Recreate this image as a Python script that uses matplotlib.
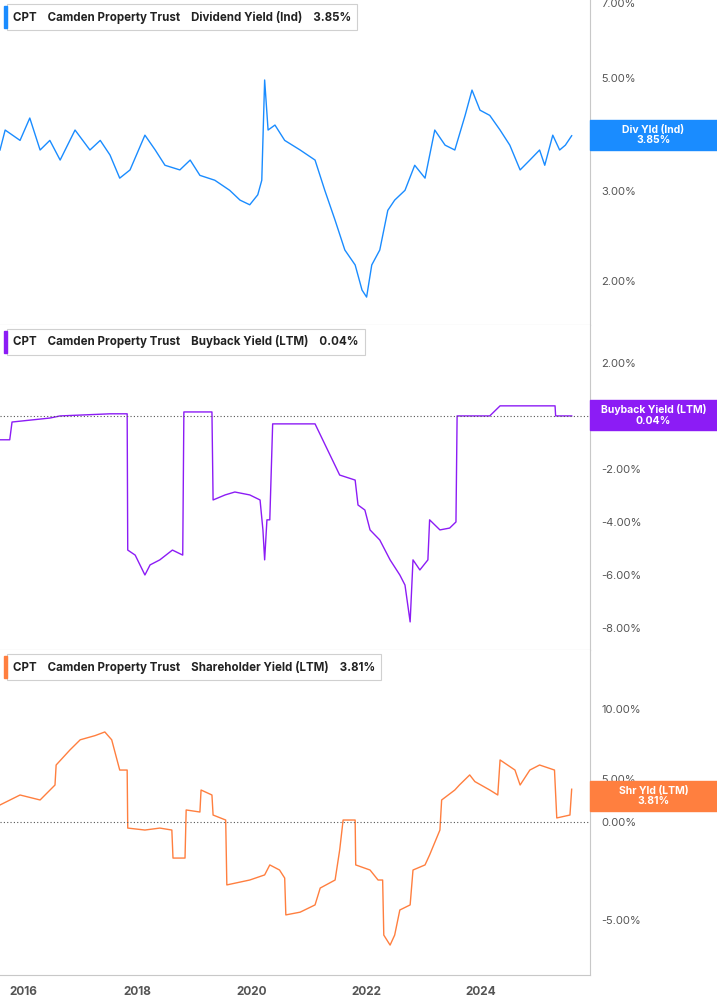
import numpy as np
import matplotlib
matplotlib.use("Agg")
import matplotlib.pyplot as plt

# ---- data (decimal year, percent) ----
div_t = [2015.60, 2015.69, 2015.95, 2016.12, 2016.30, 2016.47, 2016.65, 2016.91, 2017.17, 2017.35,
         2017.52, 2017.69, 2017.87, 2018.13, 2018.31, 2018.48, 2018.74, 2018.92, 2019.09, 2019.35,
         2019.61, 2019.79, 2019.96, 2020.10, 2020.17, 2020.22, 2020.28, 2020.40, 2020.57, 2020.84,
         2021.10, 2021.27, 2021.45, 2021.62, 2021.80, 2021.92, 2022.00, 2022.09, 2022.23, 2022.37,
         2022.49, 2022.67, 2022.84, 2023.02, 2023.19, 2023.37, 2023.54, 2023.72, 2023.84, 2023.98,
         2024.15, 2024.33, 2024.50, 2024.68, 2024.85, 2025.02, 2025.11, 2025.25, 2025.37, 2025.47, 2025.58]
div_v = [3.61, 3.95, 3.77, 4.17, 3.61, 3.77, 3.45, 3.95, 3.61, 3.77, 3.53, 3.18, 3.30, 3.86, 3.61,
         3.37, 3.30, 3.45, 3.22, 3.15, 3.01, 2.88, 2.82, 2.95, 3.15, 4.95, 3.95, 4.04, 3.77, 3.61,
         3.45, 3.01, 2.63, 2.30, 2.15, 1.92, 1.86, 2.15, 2.30, 2.75, 2.88, 3.01, 3.37, 3.18, 3.95,
         3.69, 3.61, 4.22, 4.73, 4.32, 4.22, 3.95, 3.69, 3.30, 3.45, 3.61, 3.37, 3.86, 3.61, 3.69, 3.85]

bb_t = [2015.60, 2015.77, 2015.81, 2016.47, 2016.65, 2017.52, 2017.82, 2017.83, 2017.96, 2018.13,
        2018.22, 2018.39, 2018.61, 2018.79, 2018.81, 2019.30, 2019.32, 2019.53, 2019.70, 2019.96,
        2020.14, 2020.19, 2020.22, 2020.26, 2020.31, 2020.36, 2021.10, 2021.53, 2021.80, 2021.85,
        2021.97, 2022.06, 2022.23, 2022.41, 2022.58, 2022.67, 2022.76, 2022.81, 2022.93, 2023.07,
        2023.10, 2023.28, 2023.45, 2023.56, 2023.58, 2024.15, 2024.33, 2025.29, 2025.30, 2025.58]
bb_v = [-0.90, -0.90, -0.23, -0.08, 0.00, 0.08, 0.08, -5.06, -5.25, -6.00, -5.62, -5.43, -5.06, -5.25,
        0.15, 0.15, -3.17, -2.98, -2.87, -2.98, -3.17, -4.30, -5.43, -3.92, -3.92, -0.30, -0.30, -2.23,
        -2.42, -3.36, -3.55, -4.30, -4.68, -5.43, -6.00, -6.38, -7.77, -5.43, -5.81, -5.43, -3.92, -4.30,
        -4.23, -4.00, 0.00, 0.00, 0.38, 0.38, 0.00, 0.00]

shr_t = [2015.60, 2015.95, 2016.30, 2016.56, 2016.58, 2016.82, 2017.00, 2017.26, 2017.43, 2017.55,
         2017.69, 2017.82, 2017.83, 2018.13, 2018.39, 2018.60, 2018.62, 2018.83, 2018.85, 2019.09,
         2019.11, 2019.30, 2019.32, 2019.54, 2019.56, 2019.96, 2020.22, 2020.31, 2020.48, 2020.57,
         2020.59, 2020.84, 2021.10, 2021.19, 2021.45, 2021.53, 2021.59, 2021.80, 2021.81, 2022.06,
         2022.20, 2022.28, 2022.30, 2022.41, 2022.49, 2022.58, 2022.76, 2022.81, 2023.02, 2023.10,
         2023.28, 2023.31, 2023.54, 2023.62, 2023.80, 2023.89, 2024.15, 2024.29, 2024.33, 2024.59,
         2024.68, 2024.85, 2025.02, 2025.28, 2025.32, 2025.55, 2025.58]
shr_v = [1.98, 3.14, 2.56, 4.30, 6.00, 7.07, 7.80, 8.10, 8.36, 7.80, 5.64, 5.64, -0.31, -0.41, -0.31,
         -0.41, -1.84, -1.84, 1.40, 1.16, 3.72, 3.14, 0.81, 0.23, -3.21, -2.96, -2.70, -2.19, -2.45,
         -2.86, -4.74, -4.60, -4.23, -3.37, -2.96, -1.43, 0.23, 0.23, -2.19, -2.45, -2.96, -2.96,
         -5.77, -6.28, -5.77, -4.49, -4.23, -2.45, -2.19, -1.68, -0.41, 2.56, 3.72, 4.30, 5.29, 4.70,
         3.72, 3.14, 6.36, 5.64, 4.30, 5.64, 6.00, 5.64, 0.47, 0.81, 3.81]

DIV_COL = "#1a8cff"
BB_COL = "#8c1cf5"
SHR_COL = "#ff7f3f"
GRID_COL = "#c8c8c8"
TXT_COL = "#555555"

# piecewise scale for the shareholder panel (as in reference axis)
sh_k = [-5.0, 0.0, 5.0, 10.0]
sh_p = [0.0, 98.0, 141.0, 211.0]


def sh_fwd(v):
    v = np.asarray(v, dtype=float)
    out = np.interp(v, sh_k, sh_p)
    out = np.where(v < -5, (v + 5) * 98 / 5, out)
    out = np.where(v > 10, 211 + (v - 10) * 70 / 5, out)
    return out


def sh_inv(p):
    p = np.asarray(p, dtype=float)
    out = np.interp(p, sh_p, sh_k)
    out = np.where(p < 0, p * 5 / 98 - 5, out)
    out = np.where(p > 211, 10 + (p - 211) * 5 / 70, out)
    return out


plt.rcParams["font.family"] = "Inter"
fig = plt.figure(figsize=(7.17, 10.05), dpi=100)
W = 590 / 717


def mk(top_px, bot_px):
    return fig.add_axes([0, 1 - bot_px / 1005, W, (bot_px - top_px) / 1005])


ax1 = mk(0, 325)
ax2 = mk(325, 650)
ax3 = mk(650, 975)

for ax in (ax1, ax2, ax3):
    ax.set_xlim(2015.6, 2025.9)
    ax.yaxis.tick_right()
    for s in ("left", "top"):
        ax.spines[s].set_visible(False)
    ax.spines["right"].set_color(GRID_COL)
    ax.spines["bottom"].set_color(GRID_COL)
    ax.tick_params(axis="y", length=0, labelsize=8, labelcolor=TXT_COL, pad=8)
    ax.tick_params(axis="x", length=0)
    ax.set_xticks([])

ax1.plot(div_t, div_v, color=DIV_COL, lw=1.0)
ax1.set_yscale("log")
ax1.set_ylim(1.64, 7.1)
ax1.set_yticks([2, 3, 5, 7])
ax1.set_yticks([], minor=True)
ax1.set_yticklabels(["2.00%", "3.00%", "5.00%", "7.00%"])

ax2.plot(bb_t, bb_v, color=BB_COL, lw=1.0)
ax2.axhline(0, color="#555555", ls=(0, (1, 2)), lw=0.8)
ax2.set_ylim(-8.83, 3.43)
ax2.set_yticks([-8, -6, -4, -2, 2])
ax2.set_yticklabels(["-8.00%", "-6.00%", "-4.00%", "-2.00%", "2.00%"])

ax3.set_yscale("function", functions=(sh_fwd, sh_inv))
ax3.plot(shr_t, shr_v, color=SHR_COL, lw=1.0)
ax3.axhline(0, color="#555555", ls=(0, (1, 2)), lw=0.8)
ax3.set_ylim(float(sh_inv(-55)), float(sh_inv(270)))
ax3.set_yticks([-5, 0, 5, 10])
ax3.set_yticklabels(["-5.00%", "0.00%", "5.00%", "10.00%"])
ax3.set_xticks([2016, 2018, 2020, 2022, 2024])
ax3.tick_params(axis="x", labelsize=8.5, labelcolor=TXT_COL, pad=8)
for lb in ax3.get_xticklabels():
    lb.set_fontweight("bold")

# header boxes
headers = [(ax1, DIV_COL, "Dividend Yield (Ind)", "3.85%", 17),
           (ax2, BB_COL, "Buyback Yield (LTM)", "0.04%", 342),
           (ax3, SHR_COL, "Shareholder Yield (LTM)", "3.81%", 667)]
for ax, col, name, val, ypx in headers:
    yf = 1 - ypx / 1005
    fig.text(0.018, yf, f"CPT    Camden Property Trust    {name}    {val}",
             fontsize=8.3, fontweight="bold", color="#222222", va="center", ha="left",
             bbox=dict(boxstyle="square,pad=0.55", fc="white", ec="#d0d0d0", lw=0.8))
    fig.patches.append(plt.Rectangle((0.005, yf - 0.011), 0.005, 0.022,
                                     transform=fig.transFigure, color=col, zorder=5))

# right value labels
tags = [(DIV_COL, "Div Yld (Ind)\n3.85%", 135),
        (BB_COL, "Buyback Yield (LTM)\n0.04%", 415),
        (SHR_COL, "Shr Yld (LTM)\n3.81%", 796)]
for col, txt, ypx in tags:
    yf = 1 - ypx / 1005
    fig.patches.append(plt.Rectangle((W, yf - 0.015), 1 - W, 0.030,
                                     transform=fig.transFigure, color=col, zorder=5))
    fig.text((W + 1) / 2, yf, txt, fontsize=7.5, fontweight="bold", color="white",
             ha="center", va="center", linespacing=1.1, zorder=6)

fig.savefig("out.png", dpi=100, facecolor="white")
